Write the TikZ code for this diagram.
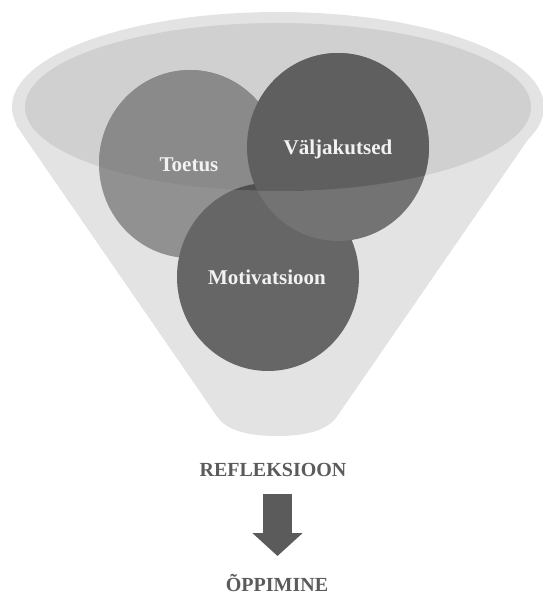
\documentclass[tikz,border=0pt]{standalone}
\usepackage{fontspec}
\setmainfont{Liberation Serif}
\usetikzlibrary{positioning, arrows.meta}

\definecolor{funnelgray}{HTML}{E3E3E3}
\definecolor{rimgray}{HTML}{D0D0D0}
\definecolor{toetusout}{HTML}{919191}
\definecolor{toetusin}{HTML}{8A8A8A}
\definecolor{motout}{HTML}{666666}
\definecolor{motin}{HTML}{505050}
\definecolor{valjout}{HTML}{737373}
\definecolor{valjin}{HTML}{5F5F5F}
\definecolor{textgray}{HTML}{5B5B5B}

\begin{document}
\begin{tikzpicture}[x=0.5pt, y=-0.5pt,
        balltext/.style={anchor=base, text=white!95!black, font=\fontsize{10.5}{12}\selectfont\bfseries},
        steptext/.style={anchor=base, text=textgray, font=\fontsize{10}{12}\selectfont\bfseries},
        blockarrow/.style={draw=textgray, line width=14.5pt, -{Triangle[width=24.5pt, length=11.5pt]}}]
        \useasboundingbox (0,0) rectangle (542,593);

        % Draw the funnel
        \fill[funnelgray] (278,107) ellipse [x radius=266, y radius=95];
        \fill[funnelgray] (16,125) -- (216,415)
                .. controls (224,428) and (242,436) .. (277,436)
                .. controls (312,436) and (330,428) .. (338,415)
                -- (538,125) -- cycle;
        \fill[rimgray] (278,107) ellipse [x radius=253, y radius=84];

        % Draw the three circles
        \coordinate (ct) at (190,164);
        \coordinate (cm) at (268,277);
        \coordinate (cv) at (338,147);
        \fill[toetusout] (ct) ellipse [x radius=91, y radius=94];
        \fill[motout] (cm) ellipse [x radius=91, y radius=94];
        \fill[valjout] (cv) ellipse [x radius=91, y radius=94];

        % Darker parts inside the rim
        \begin{scope}
                \clip (278,107) ellipse [x radius=253, y radius=84];
                \fill[toetusin] (ct) ellipse [x radius=91, y radius=94];
                \fill[motin] (cm) ellipse [x radius=91, y radius=94];
                \fill[valjin] (cv) ellipse [x radius=91, y radius=94];
        \end{scope}

        % Labels
        \node[balltext] (toetus) at (189,171) {Toetus};
        \node[balltext] (valja) at (338,155) {Väljakutsed};
        \node[balltext] (motiv) at (267,284) {Motivatsioon};

        \node[steptext] (refl) at (273,476) {REFLEKSIOON};
        \node[steptext] (oppi) at (277,591) {ÕPPIMINE};

        % Draw the arrow
        \coordinate (atop) at (277.5,494);
        \coordinate (atip) at (277.5,556);
        \draw[blockarrow] (atop) -- (atip);
\end{tikzpicture}
\end{document}
